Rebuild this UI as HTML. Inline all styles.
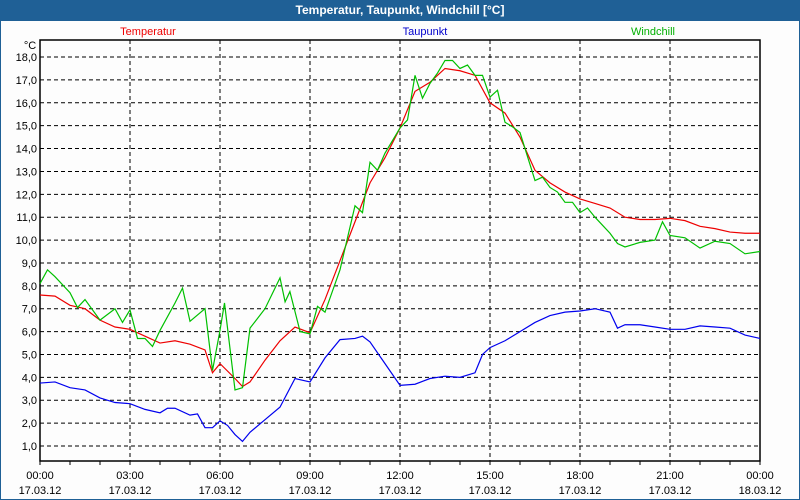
<!DOCTYPE html>
<html><head><meta charset="utf-8"><style>
body{margin:0;width:800px;height:500px;overflow:hidden;background:#fff;font-family:"Liberation Sans",sans-serif}
#wrap{position:absolute;left:0;top:0;width:798px;height:498px;border:1px solid #1f6096;background:#fdfdfd}
#title{position:absolute;left:0;top:0;width:800px;height:21px;background:#1f6096;color:#fff;font-weight:bold;font-size:12px;text-align:center;line-height:21px}
</style></head><body>
<div id="wrap"></div>
<div id="title">Temperatur, Taupunkt, Windchill [°C]</div>
<svg id="chart" width="800" height="500" style="position:absolute;left:0;top:0"></svg>
<script>
const yTicks=[1,2,3,4,5,6,7,8,9,10,11,12,13,14,15,16,17,18];
const xTickHours=[0,3,6,9,12,15,18,21,24];
const xTickTimes=["00:00","03:00","06:00","09:00","12:00","15:00","18:00","21:00","00:00"];
const xTickDates=["17.03.12","17.03.12","17.03.12","17.03.12","17.03.12","17.03.12","17.03.12","17.03.12","18.03.12"];
const tempT=[0,0.5,1,1.5,2,2.5,3,3.5,4,4.5,5,5.5,5.75,6,6.5,6.75,7,7.5,8,8.5,9,9.5,10,10.5,11,11.5,12,12.5,13,13.5,14,14.5,15,15.5,16,16.5,17,17.5,18,18.5,19,19.5,20,20.5,21,21.5,22,22.5,23,23.5,24];
const tempV=[7.6,7.55,7.15,7.0,6.5,6.2,6.1,5.8,5.5,5.6,5.45,5.2,4.2,4.6,3.95,3.6,3.8,4.75,5.6,6.2,5.95,7.4,9.1,10.8,12.5,13.6,14.9,16.5,16.9,17.5,17.4,17.2,16.0,15.55,14.5,13.05,12.5,12.1,11.8,11.6,11.4,11.0,10.9,10.9,10.95,10.85,10.6,10.5,10.35,10.3,10.3];
const windT=[0,0.25,0.5,1,1.25,1.5,2,2.5,2.75,3,3.25,3.5,3.75,4,4.5,4.75,5,5.5,5.75,6,6.15,6.5,6.75,7,7.5,8,8.17,8.33,8.67,9,9.25,9.5,10,10.5,10.75,11,11.25,11.5,12,12.25,12.5,12.75,13,13.25,13.5,13.75,14,14.25,14.5,14.75,15,15.25,15.5,15.75,16,16.5,16.75,17,17.25,17.5,17.75,18,18.25,18.5,19,19.25,19.5,20,20.5,20.75,21,21.5,22,22.5,23,23.5,24];
const windV=[8.1,8.7,8.4,7.7,7.05,7.4,6.5,7.0,6.4,6.95,5.7,5.7,5.35,6.05,7.25,7.9,6.45,7.0,4.3,6.05,7.25,3.45,3.55,6.15,7.0,8.35,7.3,7.75,6.0,5.9,7.1,6.85,8.7,11.5,11.2,13.4,13.05,13.8,14.9,15.25,17.2,16.2,16.85,17.3,17.85,17.85,17.5,17.65,17.2,17.2,16.25,16.55,15.15,14.95,14.7,12.6,12.75,12.3,12.1,11.65,11.65,11.2,11.4,11.0,10.3,9.85,9.7,9.9,10.0,10.8,10.2,10.1,9.65,9.95,9.85,9.4,9.5];
const dewT=[0,0.5,1,1.5,2,2.5,3,3.5,4,4.25,4.5,5,5.25,5.5,5.75,6,6.25,6.5,6.75,7,7.5,8,8.5,9,9.5,10,10.5,10.75,11,11.5,12,12.5,13,13.5,14,14.5,14.75,15,15.5,16,16.5,17,17.5,18,18.5,19,19.25,19.5,20,20.5,21,21.5,22,22.5,23,23.5,24];
const dewV=[3.75,3.8,3.55,3.45,3.1,2.9,2.85,2.6,2.45,2.65,2.65,2.35,2.4,1.8,1.8,2.1,1.9,1.5,1.2,1.6,2.15,2.7,3.95,3.8,4.85,5.65,5.7,5.8,5.55,4.6,3.65,3.7,3.95,4.05,4.0,4.2,5.0,5.3,5.6,6.0,6.4,6.7,6.85,6.9,7.0,6.85,6.15,6.3,6.3,6.2,6.1,6.1,6.25,6.2,6.15,5.85,5.7];

const L=40,R=760,T=40,B=461;
const xs=h=>L+h*(R-L)/24;
const ys=v=>446-(v-1)*22.88;
const svg=document.getElementById('chart');
const NS='http://www.w3.org/2000/svg';
function mk(tag,attrs,parent){const e=document.createElementNS(NS,tag);for(const k in attrs)e.setAttribute(k,attrs[k]);(parent||svg).appendChild(e);return e;}
function txt(s,x,y,anchor,color){const e=mk('text',{x:x,y:y,'text-anchor':anchor,'font-size':'11','font-family':'Liberation Sans, sans-serif',fill:color||'#000'});e.textContent=s;return e;}

yTicks.forEach(v=>{
  const g=mk('line',{x1:L,x2:R,y1:ys(v),y2:ys(v),stroke:'#000','stroke-dasharray':'4,3'});
  
  
  const t=txt(v.toFixed(1).replace('.',','),37,ys(v)+4,'end');
  
  
});
xTickHours.forEach((h,i)=>{
  if(h>0&&h<24){
    const g=mk('line',{x1:xs(h),x2:xs(h),y1:T,y2:B+3,stroke:'#000','stroke-dasharray':'4,3'});
    
    
  }
  const t1=txt(xTickTimes[i],xs(h),479,'middle');
  
  
  const t2=txt(xTickDates[i],xs(h),494,'middle');
  
  
});
for(let h=0;h<=24;h++){
  const tk=mk('line',{x1:xs(h),x2:xs(h),y1:B,y2:B+4,stroke:'#000'});
  
  
}
const box=mk('rect',{x:L,y:T,width:R-L,height:B-T,fill:'none',stroke:'#000','stroke-width':1.5});


const unit=txt('°C',30,49,'middle');



function series(T_,V_,color,name){
  const p=mk('polyline',{points:T_.map((t,i)=>xs(t)+','+ys(V_[i])).join(' '),fill:'none',stroke:color,'stroke-width':1.2});
  
  
}
series(dewT,dewV,'#0000ee','taupunkt-line');
series(tempT,tempV,'#ee0000','temperatur-line');
series(windT,windV,'#00c000','windchill-line');

const l1=txt('Temperatur',148,35,'middle','#ee0000');


const l2=txt('Taupunkt',425,35,'middle','#0000cc');


const l3=txt('Windchill',653,35,'middle','#00b000');


</script>
</body></html>
